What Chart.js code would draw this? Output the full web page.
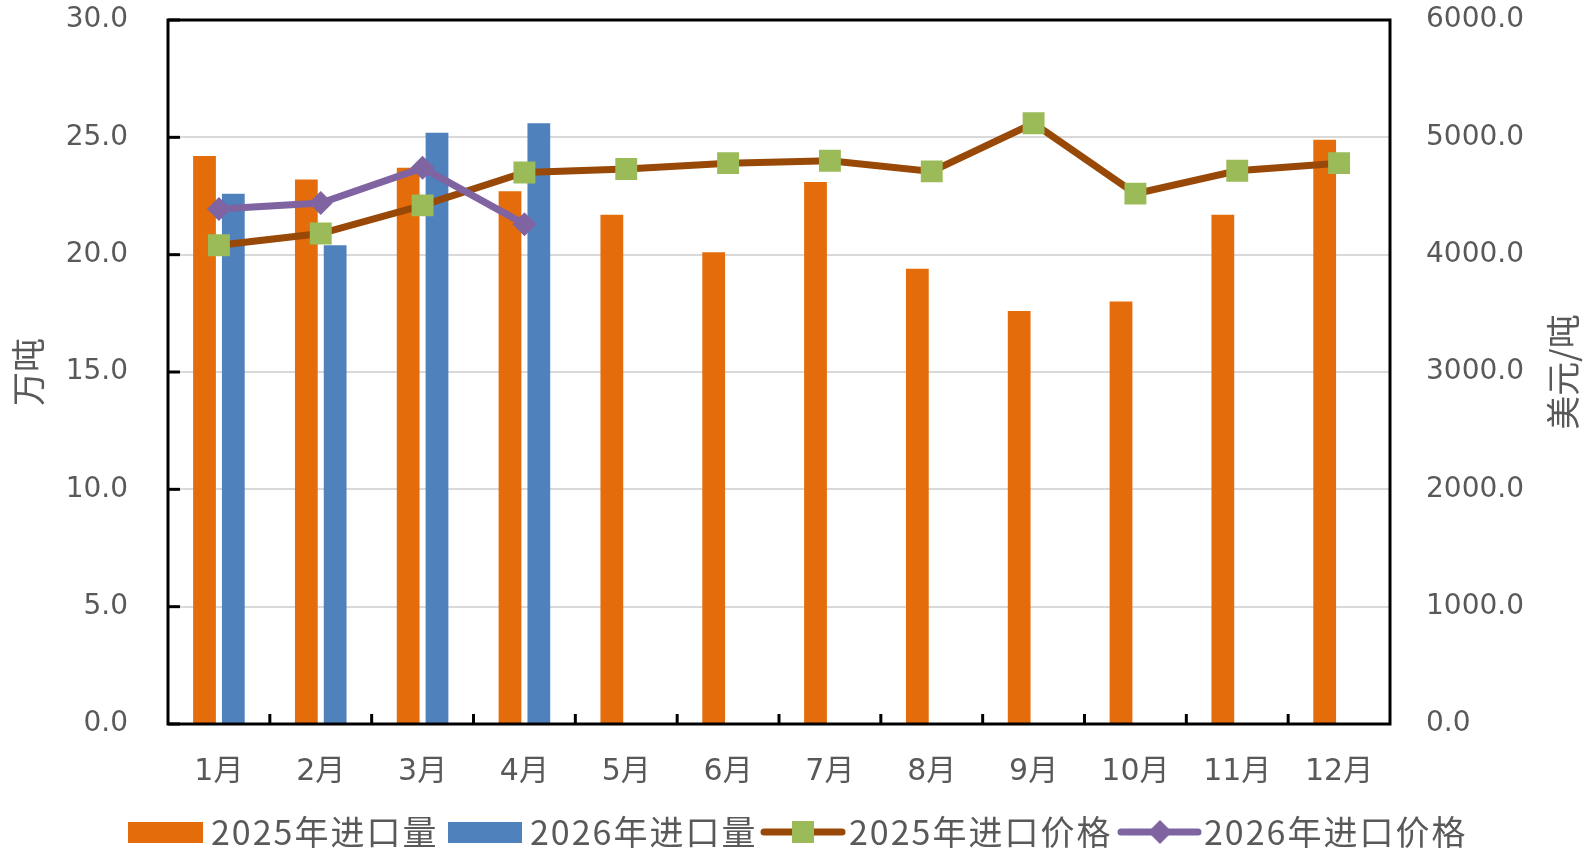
<!DOCTYPE html>
<html>
<head>
<meta charset="utf-8">
<script src="https://cdn.jsdelivr.net/npm/chart.js@4.4.1/dist/chart.umd.min.js"></script>
<style>
  html, body { margin: 0; padding: 0; background: #fff; }
  #wrap { width: 1586px; height: 856px; }
</style>
</head>
<body>
<div id="wrap"><canvas id="c" width="1586" height="856"></canvas></div>
<script>
// data
const months = ["1月", "2月", "3月", "4月", "5月", "6月", "7月", "8月", "9月", "10月", "11月", "12月"];
const vol2025 = [24.2, 23.2, 23.7, 22.7, 21.7, 20.1, 23.1, 19.4, 17.6, 18.0, 21.7, 24.9];
const vol2026 = [22.6, 20.4, 25.2, 25.6, null, null, null, null, null, null, null, null];
const price2025 = [4080, 4180, 4420, 4700, 4730, 4780, 4800, 4710, 5120, 4520, 4715, 4780];
const price2026 = [4390, 4440, 4740, 4260, null, null, null, null, null, null, null, null];

const seriesNames = ["2025年进口量", "2026年进口量", "2025年进口价格", "2026年进口价格"];
const leftTitle = "万吨";
const rightTitle = "美元/吨";

const TEXT = "#595959";
const FONT = '"DejaVu Sans", "Noto Sans CJK SC"';
const CJK = '"Noto Sans CJK SC", "DejaVu Sans"';

const colors = {
  orange: "#E46C0A",
  blue: "#4F81BD",
  brown: "#984807",
  green: "#9BBB59",
  purple: "#8064A2",
};

// === custom drawing: frame, inner ticks, axis titles, legend ===

const decor = {
  id: "decor",
  afterDatasetsDraw(chart) {
    const { ctx, chartArea: a, scales } = chart;
    ctx.save();
    ctx.strokeStyle = "#000";
    ctx.lineWidth = 3;
    ctx.strokeRect(a.left, a.top, a.right - a.left, a.bottom - a.top);

    // inner ticks on left axis
    scales.y.ticks.forEach((t) => {
      const y = scales.y.getPixelForValue(t.value);
      ctx.beginPath();
      ctx.moveTo(a.left, y);
      ctx.lineTo(a.left + 12, y);
      ctx.stroke();
    });
    // inner ticks between categories
    const xs = scales.x;
    for (let i = 1; i < months.length; i++) {
      const x = (xs.getPixelForValue(i - 1) + xs.getPixelForValue(i)) / 2;
      ctx.beginPath();
      ctx.moveTo(x, a.bottom);
      ctx.lineTo(x, a.bottom - 10);
      ctx.stroke();
    }
    ctx.restore();
  },
  afterDraw(chart) {
    const { ctx, chartArea: a } = chart;
    ctx.save();
    ctx.fillStyle = TEXT;
    ctx.font = "34px " + CJK;
    ctx.textAlign = "center";
    ctx.textBaseline = "middle";
    const midY = (a.top + a.bottom) / 2;

    ctx.save();
    ctx.translate(28, midY);
    ctx.rotate(-Math.PI / 2);
    ctx.fillText(leftTitle, 0, 0);
    ctx.restore();

    ctx.save();
    ctx.translate(1563, midY);
    ctx.rotate(-Math.PI / 2);
    ctx.fillText(rightTitle, 0, 0);
    ctx.restore();

    // legend
    const ly = 832;
    ctx.textAlign = "left";
    ctx.font = "34px " + CJK;
    ctx.letterSpacing = "2px";

    ctx.fillStyle = colors.orange;
    ctx.fillRect(128, ly - 10, 75, 21);
    ctx.fillStyle = TEXT;
    ctx.fillText(seriesNames[0], 211, ly);

    ctx.fillStyle = colors.blue;
    ctx.fillRect(448, ly - 10, 74, 21);
    ctx.fillStyle = TEXT;
    ctx.fillText(seriesNames[1], 530, ly);

    ctx.lineCap = "round";
    ctx.strokeStyle = colors.brown;
    ctx.lineWidth = 7;
    ctx.beginPath();
    ctx.moveTo(764, ly);
    ctx.lineTo(842, ly);
    ctx.stroke();
    ctx.fillStyle = colors.green;
    ctx.fillRect(803 - 11, ly - 11, 22, 22);
    ctx.fillStyle = TEXT;
    ctx.fillText(seriesNames[2], 849, ly);

    ctx.strokeStyle = colors.purple;
    ctx.beginPath();
    ctx.moveTo(1121, ly);
    ctx.lineTo(1198, ly);
    ctx.stroke();
    ctx.fillStyle = colors.purple;
    ctx.beginPath();
    ctx.moveTo(1160 - 12, ly);
    ctx.lineTo(1160, ly - 12);
    ctx.lineTo(1160 + 12, ly);
    ctx.lineTo(1160, ly + 12);
    ctx.closePath();
    ctx.fill();
    ctx.fillStyle = TEXT;
    ctx.fillText(seriesNames[3], 1204, ly);
    ctx.restore();
  },
};

// === chart ===

const ctx = document.getElementById("c").getContext("2d");
new Chart(ctx, {
  type: "bar",
  data: {
    labels: months,
    datasets: [
      {
        label: seriesNames[0],
        data: vol2025,
        backgroundColor: colors.orange,
        yAxisID: "y",
        order: 2,
      },
      {
        label: seriesNames[1],
        data: vol2026,
        backgroundColor: colors.blue,
        yAxisID: "y",
        order: 2,
      },
      {
        type: "line",
        label: seriesNames[2],
        data: price2025,
        borderColor: colors.brown,
        borderWidth: 7,
        pointStyle: "rect",
        pointRadius: 15.5,
        pointBackgroundColor: colors.green,
        pointBorderWidth: 0,
        yAxisID: "y1",
        order: 1,
      },
      {
        type: "line",
        label: seriesNames[3],
        data: price2026,
        borderColor: colors.purple,
        borderWidth: 7,
        pointStyle: "rectRot",
        pointRadius: 12,
        pointBackgroundColor: colors.purple,
        pointBorderWidth: 0,
        yAxisID: "y1",
        order: 0,
      },
    ],
  },
  options: {
    responsive: false,
    animation: false,
    categoryPercentage: 0.566,
    barPercentage: 0.79,
    layout: { autoPadding: false, padding: { top: 20, bottom: 55, left: 0, right: 0 } },
    plugins: {
      legend: { display: false },
      tooltip: { enabled: false },
    },
    scales: {
      x: {
        grid: { display: false, drawTicks: false },
        border: { display: false },
        ticks: { color: TEXT, font: { family: FONT, size: 30 }, padding: 30 },
        afterFit(s) { s.height = 77; },
      },
      y: {
        position: "left",
        min: 0,
        max: 30,
        ticks: {
          stepSize: 5,
          color: TEXT,
          font: { family: FONT, size: 28 },
          padding: 3,
          callback: (v) => v.toFixed(1),
        },
        // tick marks kept invisible; tickLength only pushes labels away from the axis
        grid: { color: "#d9d9d9", lineWidth: 2, drawTicks: true, tickLength: 37, tickColor: "rgba(0,0,0,0)" },
        border: { display: false },
        afterFit(s) { s.width = 168; },
      },
      y1: {
        position: "right",
        min: 0,
        max: 6000,
        ticks: {
          stepSize: 1000,
          color: TEXT,
          font: { family: FONT, size: 28 },
          padding: 3,
          callback: (v) => v.toFixed(1),
        },
        grid: { color: "rgba(0,0,0,0)", drawOnChartArea: false, drawTicks: true, tickLength: 33, tickColor: "rgba(0,0,0,0)" },
        border: { display: false },
        afterFit(s) { s.width = 196; },
      },
    },
  },
  plugins: [decor],
});
</script>
</body>
</html>
